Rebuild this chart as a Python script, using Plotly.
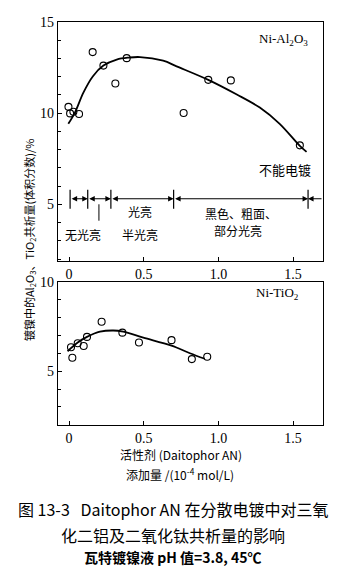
import plotly.graph_objects as go

# ---- data ----
al_x = [-0.004, 0.007, 0.029, 0.067, 0.158, 0.23, 0.31, 0.386, 0.767, 0.932, 1.083, 1.545]
al_y = [10.34, 9.98, 10.07, 9.95, 13.34, 12.6, 11.62, 13.01, 10.0, 11.82, 11.79, 8.23]
al_fit_x = [-0.005, 0.04, 0.096, 0.16, 0.23, 0.319, 0.40, 0.475, 0.63, 0.72, 0.932, 1.12, 1.277, 1.41, 1.545, 1.59]
al_fit_y = [9.41, 10.04, 11.12, 12.02, 12.6, 12.93, 13.04, 13.07, 12.87, 12.56, 11.82, 11.03, 10.3, 9.41, 8.2, 7.87]

ti_x = [0.013, 0.022, 0.058, 0.098, 0.12, 0.218, 0.357, 0.468, 0.686, 0.822, 0.925]
ti_y = [6.33, 5.75, 6.56, 6.4, 6.91, 7.76, 7.15, 6.6, 6.73, 5.67, 5.8]
ti_fit_x = [-0.01, 0.058, 0.12, 0.207, 0.296, 0.363, 0.497, 0.686, 0.809, 0.909]
ti_fit_y = [6.11, 6.6, 6.91, 7.2, 7.27, 7.2, 6.87, 6.42, 6.0, 5.69]

region_bounds = [0.007, 0.125, 0.28, 0.70, 1.60]
region_line_y = 5.3
x_ticks = [0, 0.5, 1.0, 1.5]
x_tick_labels = ["0", "0.5", "1.0", "1.5"]
y1_ticks = [5, 10, 15]
y2_ticks = [5, 10]

W, H = 350, 573
SERIF = "Liberation Serif, Times New Roman, serif"
CJK = "Noto Sans CJK SC, sans-serif"

fig = go.Figure()
marker = dict(symbol="circle-open", size=7, color="black", line=dict(width=1.1, color="black"))

fig.add_trace(go.Scatter(x=al_fit_x, y=al_fit_y, mode="lines", line=dict(color="black", width=1.8, shape="spline"),
                         xaxis="x", yaxis="y", hoverinfo="skip"))
fig.add_trace(go.Scatter(x=al_x, y=al_y, mode="markers", marker=marker, xaxis="x", yaxis="y"))
fig.add_trace(go.Scatter(x=ti_fit_x, y=ti_fit_y, mode="lines", line=dict(color="black", width=1.8, shape="spline"),
                         xaxis="x2", yaxis="y2", hoverinfo="skip"))
fig.add_trace(go.Scatter(x=ti_x, y=ti_y, mode="markers", marker=marker, xaxis="x2", yaxis="y2"))

xr = [-0.074, 1.70]
dom_x = [58 / W, 323 / W]
axis_common = dict(showgrid=False, zeroline=False, showline=True, linecolor="black", linewidth=1.2,
                   mirror=True, ticks="inside", ticklen=4, tickcolor="black",
                   tickfont=dict(family=SERIF, size=14, color="black"))

fig.update_layout(
    width=W, height=H, margin=dict(l=0, r=0, t=0, b=0),
    paper_bgcolor="white", plot_bgcolor="white", showlegend=False,
    xaxis=dict(domain=dom_x, range=xr, anchor="y", tickvals=x_ticks, ticktext=x_tick_labels, **axis_common),
    yaxis=dict(domain=[1 - 257 / H, 1 - 15 / H], range=[1.9, 15], anchor="x", tickvals=y1_ticks,
               minor=dict(dtick=1, ticks="inside", ticklen=3, tickcolor="black"), **axis_common),
    xaxis2=dict(domain=dom_x, range=xr, anchor="y2", tickvals=x_ticks, ticktext=x_tick_labels, **axis_common),
    yaxis2=dict(domain=[1 - 423 / H, 1 - 278 / H], range=[2, 10], anchor="x2", tickvals=y2_ticks,
                minor=dict(dtick=1, ticks="inside", ticklen=3, tickcolor="black"), **axis_common),
)

ann = []
shapes = []
# region bars
for b in region_bounds:
    shapes.append(dict(type="line", xref="x", yref="y", x0=b, x1=b, y0=4.75, y1=5.8,
                       line=dict(color="black", width=1.2)))
shapes.append(dict(type="line", xref="x", yref="y", x0=0.2, x1=0.2, y0=5.0, y1=4.1,
                   line=dict(color="black", width=1)))
for a, b in zip(region_bounds[:-1], region_bounds[1:]):
    ann.append(dict(x=b, y=region_line_y, ax=a, ay=region_line_y, xref="x", yref="y", axref="x", ayref="y",
                    text="", showarrow=True, arrowhead=2, arrowside="end+start", arrowsize=1.0,
                    arrowwidth=1.1, arrowcolor="black"))
ann.append(dict(x=region_bounds[-1], y=region_line_y, ax=xr[1], ay=region_line_y, xref="x", yref="y",
                axref="x", ayref="y", text="", showarrow=True, arrowhead=2, arrowsize=1.0,
                arrowwidth=1.1, arrowcolor="black"))

def txt(x, y, s, size=13, font=CJK, xref="x", yref="y", **kw):
    d = dict(x=x, y=y, xref=xref, yref=yref, text=s, showarrow=False, xanchor="center", yanchor="middle",
             font=dict(family=font, size=size, color="black"))
    d.update(kw)
    ann.append(d)

txt(0.475, 4.62, "光亮", size=12)
txt(0.475, 3.37, "半光亮", size=12)
txt(0.096, 3.37, "无光亮", size=12)
txt(1.154, 4.47, "黑色、粗面、", size=12)
txt(1.13, 3.58, "部分光亮", size=12)
txt(1.444, 6.93, "不能电镀")
txt(283 / W, 1 - 33 / H, "Ni-Al<sub>2</sub>O<sub>3</sub>", size=13, font=SERIF, xref="paper", yref="paper")
txt(277 / W, 1 - 290 / H, "Ni-TiO<sub>2</sub>", size=13, font=SERIF, xref="paper", yref="paper")

# y title
txt(29 / W, 1 - 236 / H, "镀镍中的Al<sub>2</sub>O<sub>3</sub>、TiO<sub>2</sub>共析量(体积分数)/%", size=11,
    xref="paper", yref="paper", textangle=-90)
# x title
txt(181 / W, 1 - 453 / H, "活性剂 (Daitophor AN)", size=12, xref="paper", yref="paper")
txt(180 / W, 1 - 473 / H, "添加量 /(10<sup>-4</sup> mol/L)", size=12, xref="paper", yref="paper")
# caption
txt(173 / W, 1 - 508 / H, "图 13-3   Daitophor AN 在分散电镀中对三氧", size=16, xref="paper", yref="paper")
txt(173 / W, 1 - 535 / H, "化二铝及二氧化钛共析量的影响", size=16, xref="paper", yref="paper")
txt(173 / W, 1 - 557 / H, "<b>瓦特镀镍液 pH 值=3.8, 45℃</b>", size=14, xref="paper", yref="paper")

fig.update_layout(annotations=ann, shapes=shapes)
fig.write_html("out.html")
